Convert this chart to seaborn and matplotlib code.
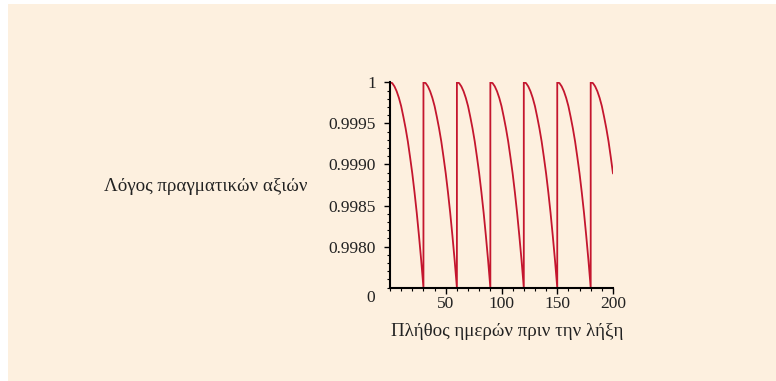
#packages
import matplotlib
matplotlib.use("Agg")
import matplotlib.pyplot as plt
from matplotlib.patches import Rectangle
from matplotlib.ticker import MultipleLocator
import numpy as np
import pandas as pd
import seaborn as sns

#values: one 30-day cycle, then restarted
cycle_days = [0, 2, 4, 6, 8, 10, 12, 14, 16, 18, 20, 22, 24, 26, 28, 30]
cycle_ratio = [1.0, 0.99999, 0.99995, 0.99989, 0.99981, 0.99971, 0.99958, 0.99944,
               0.99928, 0.99909, 0.99889, 0.99866, 0.99841, 0.99813, 0.99783, 0.99750]
cycle_starts = [0, 30, 60, 90, 120, 150, 180]
last_day = 200

ytick_vals = [0.9980, 0.9985, 0.9990, 0.9995, 1.0]
ytick_labels = ["0.9980", "0.9985", "0.9990", "0.9995", "1"]
xtick_vals = [50, 100, 150, 200]

days = []
ratio = []
for s in cycle_starts:
    for d, r in zip(cycle_days, cycle_ratio):
        if s + d <= last_day:
            days.append(s + d)
            ratio.append(r)
df = pd.DataFrame({"day": days, "ratio": ratio})

sns.set_style("white")
plt.rcParams["font.family"] = ["Liberation Serif", "DejaVu Serif"]

fig = plt.figure(figsize=(7.76, 3.81), dpi=100)
fig.patch.set_facecolor("white")
#beige panel behind everything, white strip left and top
bg = fig.add_axes([8 / 776, 0, 1 - 8 / 776, 1 - 4 / 381])
bg.set_axis_off()
bg.add_patch(Rectangle((0, 0), 1, 1, transform=bg.transAxes, facecolor="#FDF0DF",
                       edgecolor="none"))
bg.set_zorder(0)

ax = fig.add_axes([390 / 776, 1 - 287.7 / 381, 223 / 776, 205.4 / 381])
ax.set_zorder(1)
ax.patch.set_alpha(0)

sns.lineplot(data=df, x="day", y="ratio", sort=False, estimator=None,
             color="#C4162E", linewidth=1.3, ax=ax)

ax.set_xlim(0, 200)
ax.set_ylim(0.9975, 1.0)
ax.set_xticks(xtick_vals)
ax.set_xticklabels([str(v) for v in xtick_vals])
ax.set_yticks(ytick_vals)
ax.set_yticklabels(ytick_labels)
ax.xaxis.set_minor_locator(MultipleLocator(10))
ax.yaxis.set_minor_locator(MultipleLocator(0.0001))
ax.tick_params(which="major", direction="out", length=4, width=1, colors="black",
               labelsize=12.5, labelcolor="#222222", left=True, bottom=True)
ax.tick_params(axis="y", which="major", pad=6)
ax.tick_params(axis="x", which="major", pad=2)
ax.tick_params(which="minor", direction="out", length=2, width=0.8, colors="black",
               left=True, bottom=True)
for side in ["top", "right"]:
    ax.spines[side].set_visible(False)
for side in ["left", "bottom"]:
    ax.spines[side].set_color("black")
    ax.spines[side].set_linewidth(1.5)

ax.set_xlabel("Πλήθος ημερών πριν την λήξη", fontsize=13.7, color="#222222")
ax.xaxis.set_label_coords(0.525, -0.172)
ax.set_ylabel("Λόγος πραγματικών αξιών", fontsize=13.7, color="#222222",
              rotation=0, ha="center", va="center")
ax.yaxis.set_label_coords(-0.825, 0.495)
ax.text(-0.085, -0.05, "0", transform=ax.transAxes, ha="center", va="center",
        fontsize=12.5, color="#222222")

fig.savefig("out.png", dpi=100, facecolor=fig.get_facecolor())
